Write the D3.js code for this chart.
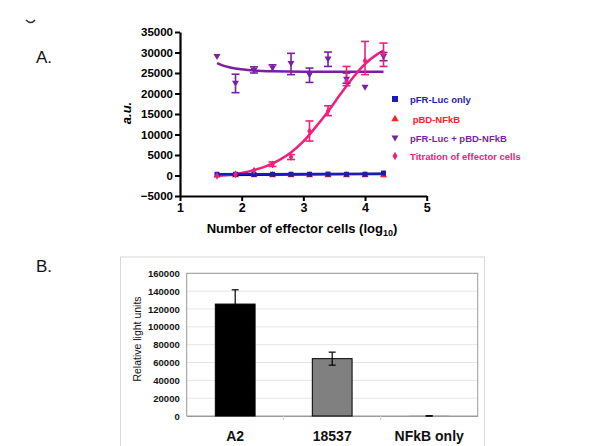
<!DOCTYPE html>
<html><head><meta charset="utf-8">
<script src="https://cdn.jsdelivr.net/npm/d3@7"></script>
<style>body{margin:0;background:#fff}svg{display:block;font-family:"Liberation Sans",Arial,sans-serif}</style>
</head><body>
<svg id="c" width="600" height="446"></svg>
<script>
// ---------- Panel A data ----------
const xDoses = [1.6, 1.9, 2.2, 2.5, 2.8, 3.1, 3.4, 3.7, 4.0, 4.3];
const lucOnly = [300, 300, 250, 300, 300, 300, 350, 300, 300, 600];
const bdOnly = [0, 50, 50, 50, 50, 50, 50, 50, 100, 100];
const comboMean = [29000, 22500, 25700, 26200, 27300, 24600, 28400, 23500, 21500, 29000];
const comboLo =   [null, 20200, 25000, 25500, 24600, 22700, 26600, 22500, null, 28000];
const comboHi =   [null, 24700, 26500, 27000, 29800, 26200, 30100, 25000, null, 30000];
const titrMean = [-100, 300, 1200, 2700, 4500, 10800, 15700, 23000, 28000, 29700];
const titrLo =   [null, null, null, 2200, 3900, 8400, 14600, 21900, 24600, 26600];
const titrHi =   [null, null, null, 3300, 5100, 13300, 17000, 26600, 32700, 32300];
// fitted curves
const titrFitX = [1.6, 1.8, 2.0, 2.2, 2.4, 2.6, 2.8, 3.0, 3.2, 3.4, 3.6, 3.8, 4.0, 4.2, 4.3];
const titrFitY = [-100, 200, 600, 1300, 2300, 3700, 5600, 8300, 11800, 15600, 19800, 23800, 27200, 29600, 30500];
const comboFitX = [1.6, 1.7, 1.8, 1.9, 2.0, 2.2, 2.5, 3.0, 3.5, 4.3];
const comboFitY = [27400, 26800, 26400, 26100, 25900, 25600, 25400, 25300, 25300, 25300];
const lucFitX = [1.6, 4.3];
const lucFitY = [300, 400];
const bdFitX = [1.6, 4.3];
const bdFitY = [50, 450];
const yTicksA = [-5000, 0, 5000, 10000, 15000, 20000, 25000, 30000, 35000];
const xTicksA = [1, 2, 3, 4, 5];
const legendA = ["pFR-Luc only", " pBD-NFkB", "pFR-Luc + pBD-NFkB", "Titration of effector cells"];

// ---------- Panel B data ----------
const barCats = ["A2", "18537", "NFkB only"];
const barVals = [125500, 64300, 100];
const barErr = [16000, 7300, 150];
const yTicksB = [0, 20000, 40000, 60000, 80000, 100000, 120000, 140000, 160000];

const svg = d3.select("#c");
const BLUE = "#1c1cb4", RED = "#ff2020", PURPLE = "#7b1fa2", PINK = "#f0207a";

// panel letters
svg.append("text").attr("x", 36).attr("y", 63).attr("font-size", 17).attr("fill", "#111").text("A.");
svg.append("text").attr("x", 36).attr("y", 272).attr("font-size", 17).attr("fill", "#111").text("B.");
svg.append("path").attr("d", "M26,20 Q31,25 35,20").attr("fill", "none").attr("stroke", "#333").attr("stroke-width", 1.6);

// ---------- Panel A ----------
const xA = d3.scaleLinear().domain([1, 5]).range([180, 426.7]);
const yA = d3.scaleLinear().domain([-5000, 35000]).range([196, 32]);
const gA = svg.append("g");

const yAxA = gA.append("g").attr("transform", "translate(180,0)")
  .call(d3.axisLeft(yA).tickValues(yTicksA).tickSize(5).tickSizeOuter(0).tickPadding(2).tickFormat(d3.format("d")));
const xAxA = gA.append("g").attr("transform", "translate(0,196)")
  .call(d3.axisBottom(xA).tickValues(xTicksA).tickSize(5).tickSizeOuter(0).tickPadding(2).tickFormat(d3.format("d")));
[yAxA, xAxA].forEach(a => {
  a.select(".domain").attr("stroke", "#000").attr("stroke-width", 2.2);
  a.selectAll(".tick line").attr("stroke", "#000").attr("stroke-width", 2);
  a.selectAll("text").attr("font-weight", "bold").attr("fill", "#000").attr("font-family", "Liberation Sans, Arial");
});
yAxA.selectAll("text").attr("font-size", 11.5);
xAxA.selectAll("text").attr("font-size", 12.5);

gA.append("text").attr("transform", "translate(131,113) rotate(-90)").attr("text-anchor", "middle")
  .attr("font-size", 13).attr("font-weight", "bold").attr("font-style", "italic").text("a.u.");
const xt = gA.append("text").attr("x", 302).attr("y", 233).attr("text-anchor", "middle")
  .attr("font-size", 13).attr("font-weight", "bold");
xt.append("tspan").text("Number of effector cells (log");
xt.append("tspan").attr("font-size", 9).attr("dy", 3).text("10");
xt.append("tspan").attr("dy", -3).text(")");

const line = d3.line().x(d => xA(d[0])).y(d => yA(d[1])).curve(d3.curveMonotoneX);
const zip = (a, b) => a.map((v, i) => [v, b[i]]);

// fits
gA.append("path").datum(zip(bdFitX, bdFitY)).attr("d", line).attr("fill", "none").attr("stroke", "#000").attr("stroke-width", 2);
gA.append("path").datum(zip(comboFitX, comboFitY)).attr("d", line).attr("fill", "none").attr("stroke", PURPLE).attr("stroke-width", 2.5);
gA.append("path").datum(zip(titrFitX, titrFitY)).attr("d", line).attr("fill", "none").attr("stroke", PINK).attr("stroke-width", 2.5);
gA.append("path").datum(zip(lucFitX, lucFitY)).attr("d", line).attr("fill", "none").attr("stroke", BLUE).attr("stroke-width", 2.6);

function errBars(lo, hi, color) {
  xDoses.forEach((x, i) => {
    if (lo[i] == null) return;
    const cx = xA(x);
    const g = gA.append("g").attr("stroke", color).attr("stroke-width", 1.6);
    g.append("line").attr("x1", cx).attr("x2", cx).attr("y1", yA(lo[i])).attr("y2", yA(hi[i]));
    g.append("line").attr("x1", cx - 4).attr("x2", cx + 4).attr("y1", yA(lo[i])).attr("y2", yA(lo[i]));
    g.append("line").attr("x1", cx - 4).attr("x2", cx + 4).attr("y1", yA(hi[i])).attr("y2", yA(hi[i]));
  });
}
errBars(comboLo, comboHi, PURPLE);
errBars(titrLo, titrHi, PINK);

const sym = (type, size) => d3.symbol().type(type).size(size)();
const invTri = "M-3.5,-2.5L3.5,-2.5L0,3.5Z";
function markers(vals, draw) { xDoses.forEach((x, i) => draw(xA(x), yA(vals[i]))); }
markers(bdOnly, (x, y) => gA.append("path").attr("d", sym(d3.symbolTriangle, 22)).attr("transform", `translate(${x},${y})`).attr("fill", RED));
markers(lucOnly, (x, y) => gA.append("rect").attr("x", x - 2.5).attr("y", y - 2.5).attr("width", 5).attr("height", 5).attr("fill", BLUE));
markers(comboMean, (x, y) => gA.append("path").attr("d", invTri).attr("transform", `translate(${x},${y})`).attr("fill", PURPLE));
markers(titrMean, (x, y) => gA.append("path").attr("d", sym(d3.symbolDiamond, 18)).attr("transform", `translate(${x},${y})`).attr("fill", PINK));

// legend
const legColors = [BLUE, RED, PURPLE, PINK];
const legY = [99, 119, 138, 156];
legendA.forEach((t, i) => {
  const lx = 395, ly = legY[i];
  if (i === 0) gA.append("rect").attr("x", lx - 3).attr("y", ly - 3).attr("width", 6).attr("height", 6).attr("fill", BLUE);
  if (i === 1) gA.append("path").attr("d", sym(d3.symbolTriangle, 24)).attr("transform", `translate(${lx},${ly})`).attr("fill", RED);
  if (i === 2) gA.append("path").attr("d", invTri).attr("transform", `translate(${lx},${ly})`).attr("fill", PURPLE);
  if (i === 3) gA.append("path").attr("d", sym(d3.symbolDiamond, 22)).attr("transform", `translate(${lx},${ly})`).attr("fill", PINK);
  gA.append("text").attr("x", 410).attr("y", ly + 3.5).attr("font-size", 9.5).attr("font-weight", "bold")
    .attr("fill", legColors[i]).attr("xml:space", "preserve").style("white-space", "pre").text(t);
});

// ---------- Panel B ----------
const gB = svg.append("g");
gB.append("rect").attr("x", 120.5).attr("y", 257).attr("width", 364).attr("height", 200).attr("fill", "#fff").attr("stroke", "#d8d8d8").attr("stroke-width", 1);
const xB = d3.scaleBand().domain(barCats).range([186.7, 477.7]).paddingInner(0.59).paddingOuter(0.295);
const yB = d3.scaleLinear().domain([0, 160000]).range([416, 273.3]);
const bandB = d3.scaleBand().domain(barCats).range([186.7, 477.7]);

gB.append("g").selectAll("line").data(yTicksB.slice(1)).join("line")
  .attr("x1", 186.7).attr("x2", 477.7).attr("y1", d => yB(d)).attr("y2", d => yB(d))
  .attr("stroke", "#e6e6e6").attr("stroke-width", 1);
gB.append("rect").attr("x", 186.7).attr("y", 273.3).attr("width", 291).attr("height", 142.7)
  .attr("fill", "none").attr("stroke", "#9a9a9a").attr("stroke-width", 1);

const yAxB = gB.append("g").attr("transform", "translate(186.7,0)")
  .call(d3.axisLeft(yB).tickValues(yTicksB).tickSize(0).tickPadding(7).tickFormat(d3.format("d")));
yAxB.select(".domain").remove();
yAxB.selectAll("text").attr("font-size", 9.5).attr("font-weight", "bold").attr("fill", "#111").attr("font-family", "Liberation Sans, Arial");

const xAxB = gB.append("g").attr("transform", "translate(0,416)")
  .call(d3.axisBottom(bandB).tickSize(0).tickPadding(15.5).tickSizeOuter(0));
xAxB.select(".domain").attr("stroke", "#9a9a9a");
xAxB.selectAll("text").attr("font-size", 14).attr("font-weight", "bold").attr("fill", "#111").attr("font-family", "Liberation Sans, Arial");
gB.append("g").selectAll("line").data(barCats.slice(1)).join("line")
  .attr("x1", d => bandB(d)).attr("x2", d => bandB(d)).attr("y1", 416).attr("y2", 420)
  .attr("stroke", "#cfcfcf");

gB.append("text").attr("transform", "translate(141,339) rotate(-90)").attr("text-anchor", "middle")
  .attr("font-size", 10.5).attr("fill", "#111").text("Relative light units");

const barFill = ["#000000", "#808080", "#000000"];
gB.selectAll(".bar").data(barCats).join("rect")
  .attr("x", d => xB(d)).attr("width", xB.bandwidth())
  .attr("y", (d, i) => yB(barVals[i])).attr("height", (d, i) => yB(0) - yB(barVals[i]))
  .attr("fill", (d, i) => barFill[i]).attr("stroke", (d, i) => barVals[i] > 1000 ? "#000" : "none").attr("stroke-width", 1);
barCats.forEach((c, i) => {
  const cx = xB(c) + xB.bandwidth() / 2;
  const g = gB.append("g").attr("stroke", "#000").attr("stroke-width", 1.2);
  const lo = yB(barVals[i] - barErr[i]), hi = yB(barVals[i] + barErr[i]);
  g.append("line").attr("x1", cx).attr("x2", cx).attr("y1", lo).attr("y2", hi);
  g.append("line").attr("x1", cx - 3.5).attr("x2", cx + 3.5).attr("y1", hi).attr("y2", hi);
  g.append("line").attr("x1", cx - 3.5).attr("x2", cx + 3.5).attr("y1", lo).attr("y2", lo);
});
</script>
</body></html>
